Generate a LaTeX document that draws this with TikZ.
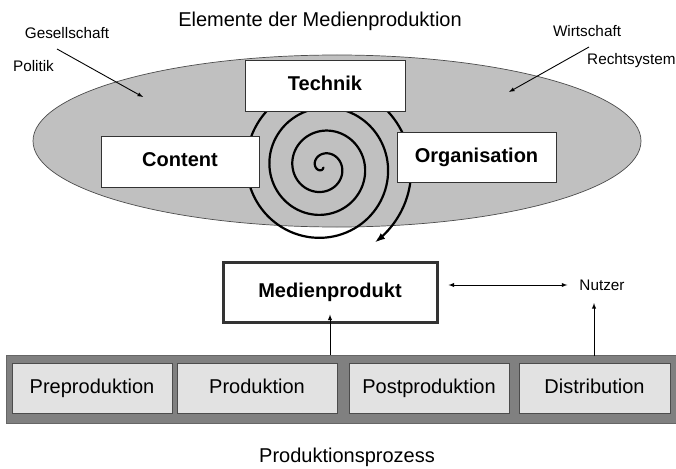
\documentclass[tikz,border=0pt]{standalone}
\usepackage{fontspec}
\setmainfont{Liberation Sans}
\usetikzlibrary{arrows,calc}

\definecolor{umfeldgrau}{RGB}{192,192,192}
\definecolor{bandgrau}{RGB}{128,128,128}
\definecolor{phasengrau}{RGB}{226,226,226}

\begin{document}
\begin{tikzpicture}[x=1pt,y=-1pt,
    element/.style={draw=black!80,fill=white,line width=0.8pt,inner sep=0pt,
        text height=14.6pt,text depth=4.2pt,
        font=\bfseries\fontsize{20}{24}\selectfont},
    phase/.style={draw=black!70,fill=phasengrau,line width=0.8pt,inner sep=0pt,
        text height=14.6pt,text depth=4.2pt,
        minimum height=50pt,font=\fontsize{20}{24}\selectfont},
    klein/.style={inner sep=0pt,font=\fontsize{15.3}{18}\selectfont},
    pfeil/.style={-latex,line width=0.9pt}]
    \useasboundingbox (0,0) rectangle (676,468);

    % Umfeld
    \fill[umfeldgrau,draw=black!70,line width=0.7pt] (337,141) ellipse [x radius=304, y radius=86];
    \node[inner sep=0pt,font=\fontsize{20}{24}\selectfont] (titel) at (320,21) {Elemente der Medienproduktion};
    \node[klein] (gesellschaft) at (67,33) {Gesellschaft};
    \node[klein] (politik) at (33.5,66) {Politik};
    \node[klein] (wirtschaft) at (587,31) {Wirtschaft};
    \node[klein,anchor=west] (recht) at (587,61) {Rechtsystem};
    \coordinate (gesStart) at (57,49);
    \coordinate (gesZiel) at (143,97);
    \coordinate (wirStart) at (589,47);
    \coordinate (wirZiel) at (509,92);
    \draw[pfeil] (gesStart) -- (gesZiel);
    \draw[pfeil] (wirStart) -- (wirZiel);

    % Spirale
    \begin{scope}[shift={(323,167)}]
        \draw[-latex,line width=2.2pt] plot[domain=-297:1135,samples=400,smooth,variable=\t]
            (\t:{19+\t/360*23});
    \end{scope}

    % Elemente
    \node[element,minimum width=160pt,minimum height=51pt] (technik) at (325,85.5) {Technik};
    \node[element,minimum width=158pt,minimum height=51pt] (content) at (180,161.5) {Content};
    \node[element,minimum width=159pt,minimum height=50pt] (organisation) at (476.5,157) {Organisation};
    \node[element,line width=3pt,minimum width=214pt,minimum height=60pt] (medien) at (330,292) {Medienprodukt};
    \node[klein] (nutzer) at (602,285) {Nutzer};

    % Produktionsprozess
    \node[draw=black!60,fill=bandgrau,line width=0.8pt,minimum width=670pt,minimum height=68pt] (band) at (341,389) {};
    \node[phase,minimum width=160pt] (pre) at (92,388) {Preproduktion};
    \node[phase,minimum width=160pt] (pro) at (257,388) {Produktion};
    \node[phase,minimum width=160pt] (post) at (429,388) {Postproduktion};
    \node[phase,minimum width=151pt] (dist) at (594.5,388) {Distribution};
    \node[inner sep=0pt,font=\fontsize{20}{24}\selectfont] (prozess) at (347,457) {Produktionsprozess};

    % Verbindungen
    \draw[latex-latex,line width=0.9pt] ([xshift=10pt]medien.east |- nutzer.west) -- ([xshift=-12pt]nutzer.west);
    \draw[pfeil] (band.north -| medien.south) -- ([yshift=9pt]medien.south);
    \coordinate (nutzerFuss) at (594,356);
    \draw[pfeil] (nutzerFuss) -- (nutzerFuss |- 0,303);
\end{tikzpicture}
\end{document}
